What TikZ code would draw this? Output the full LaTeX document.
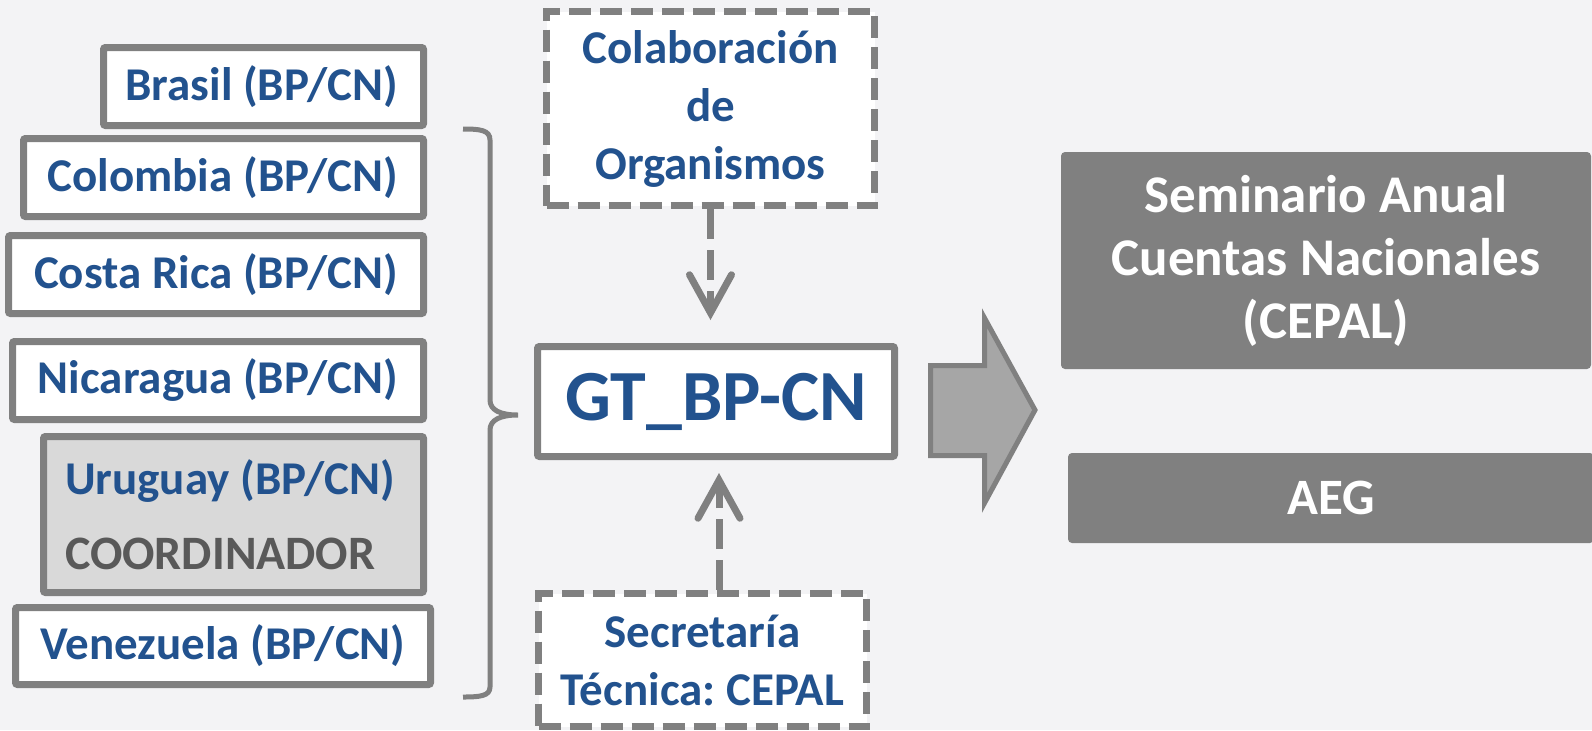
\documentclass[tikz,border=0pt]{standalone}
\usepackage{fontspec}
\setmainfont{Carlito}
\usetikzlibrary{arrows.meta}
\definecolor{bg}{HTML}{F3F3F5}
\definecolor{tblue}{HTML}{22528E}
\definecolor{lgray}{HTML}{808080}
\definecolor{cgray}{HTML}{D9D9D9}
\definecolor{agray}{HTML}{A6A6A6}
\definecolor{dgray}{HTML}{595959}
\newcommand\natsp{\spaceskip=0pt\xspaceskip=0pt\relax}
\frenchspacing
\begin{document}
\begin{tikzpicture}[x=0.5pt,y=-0.5pt,
  cbox/.style={draw=lgray, line width=3.5pt, fill=white, rounded corners=1pt, inner sep=0pt,
    text=tblue, font=\bfseries\fontsize{23.5}{29}\selectfont},
  dbox/.style={draw=lgray, line width=3.5pt, fill=white, dash pattern=on 11pt off 4.5pt,
    inner sep=0pt, text=tblue, align=center, font=\bfseries\fontsize{23.5}{29}\selectfont},
  gbox/.style={fill=lgray, rounded corners=2pt, text=white, align=center, inner sep=0pt},
  conn/.style={draw=lgray, line width=3.5pt, dash pattern=on 15pt off 5.5pt,
    -{Straight Barb[length=19pt,width=21pt,line cap=round,line join=miter]}},
  brace/.style={draw=lgray, line width=2.5pt},
  bigarrow/.style={draw=lgray, fill=agray, line width=2.5pt, line join=miter}
]
\useasboundingbox (0,0) rectangle (1592,730);
\fill[bg] (0,0) rectangle (1592,730);

% country boxes
\node[cbox, minimum width=160pt, minimum height=39pt, text width=134.5pt, align=right] (bra) at (263.5,86.5) {\llap{\natsp Brasil (BP/CN)}};
\node[cbox, minimum width=200pt, minimum height=39pt, text width=174.5pt, align=right] (col) at (223.5,177.5) {\llap{\natsp Colombia (BP/CN)}};
\node[cbox, minimum width=207.5pt, minimum height=39pt, text width=182pt, align=right] (cri) at (216,274.5) {\llap{\natsp Costa Rica (BP/CN)}};
\node[cbox, minimum width=205.5pt, minimum height=39pt, text width=180pt, align=right] (nic) at (218,380.5) {\llap{\natsp Nicaragua (BP/CN)}};
\node[cbox, fill=cgray, minimum width=190pt, minimum height=78pt, text width=168.5pt, align=left] (uru) at (233.5,514.5)
  {\rlap{\natsp Uruguay (BP/CN)}\\[8.5pt]{\color{dgray}\fontsize{24}{26}\selectfont COORDINADOR}};
\node[cbox, minimum width=207.5pt, minimum height=38.5pt, align=center] (ven) at (223,646) {Venezuela (BP/CN)};

% brace
\draw[brace] (463,129) .. controls (480,129) and (490,130) .. (490,140) -- (490,400)
  .. controls (490,410) and (500,415) .. (518,415)
  .. controls (500,415) and (490,420) .. (490,430) -- (490,687)
  .. controls (490,696) and (480,697) .. (463,697);

% centre boxes
\node[dbox, minimum width=164pt, minimum height=97pt] (colab) at (710.5,108.5) {Colaboración\\de\\Organismos};
\node[cbox, minimum width=178.5pt, minimum height=55pt, font=\bfseries\fontsize{36}{40}\selectfont] (gt) at (716,401.5) {GT\_BP-CN};
\node[dbox, minimum width=164pt, minimum height=66.5pt] (sec) at (702.5,660) {\natsp Secretaría\\Técnica: CEPAL};

% connectors
\draw[conn, shorten >=11.5pt] (colab.south) -- (colab.south |- gt.north);
\coordinate (bstart) at ([xshift=8.25pt]sec.north);
\draw[conn, shorten >=6.5pt] (bstart) -- (bstart |- gt.south);

% big arrow
\draw[bigarrow] (930.5,365.5) -- (984.5,365.5) -- (984.5,318) -- (1035,410) -- (984.5,503) -- (984.5,455.5) -- (930.5,455.5) -- cycle;

% right boxes
\node[gbox, minimum width=265pt, minimum height=108.5pt, font=\bfseries\fontsize{26.5}{31.5}\selectfont] (sem) at (1326,260.5) {Seminario Anual\\Cuentas Nacionales\\(CEPAL)};
\node[gbox, minimum width=263pt, minimum height=45pt, font=\bfseries\fontsize{25.5}{30}\selectfont] (aeg) at (1331,498) {AEG};
\end{tikzpicture}
\end{document}
